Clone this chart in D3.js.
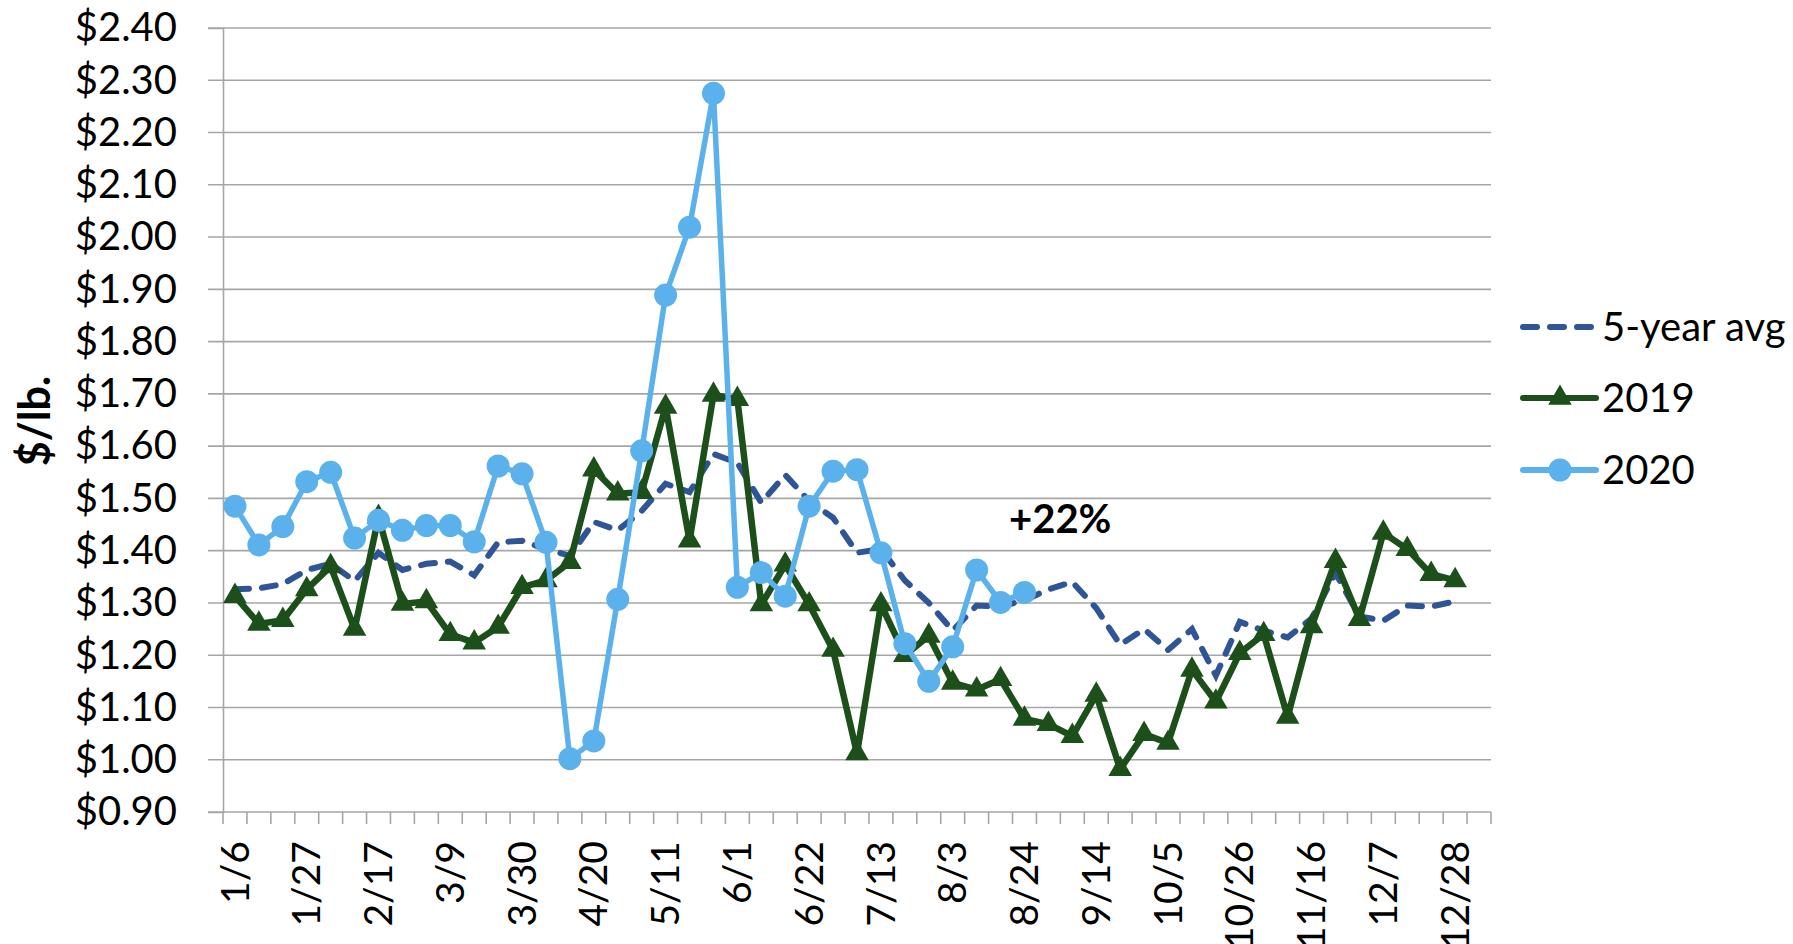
<!DOCTYPE html>
<html>
<head>
<meta charset="utf-8">
<script src="https://cdnjs.cloudflare.com/ajax/libs/d3/7.8.5/d3.min.js"></script>
<style>
  body { margin: 0; background: #fff; }
  svg { display: block; }
  .tick text, text { font-family: Lato, "Open Sans", sans-serif; fill: #000; }
</style>
</head>
<body>
<script>
// week labels (53rd category is empty in the original)
let weeks = ["1/6","1/13","1/20","1/27","2/3","2/10","2/17","2/24","3/2","3/9","3/16","3/23","3/30",
    "4/6","4/13","4/20","4/27","5/4","5/11","5/18","5/25","6/1","6/8","6/15","6/22","6/29",
    "7/6","7/13","7/20","7/27","8/3","8/10","8/17","8/24","8/31","9/7","9/14","9/21","9/28",
    "10/5","10/12","10/19","10/26","11/2","11/9","11/16","11/23","11/30","12/7","12/14","12/21","12/28"];

let avg5 = [1.326,1.328,1.336,1.363,1.375,1.342,1.396,1.363,1.375,1.379,1.353,1.416,1.419,
    1.403,1.39,1.455,1.439,1.476,1.528,1.512,1.585,1.568,1.492,1.545,1.495,1.463,
    1.396,1.403,1.343,1.30,1.247,1.295,1.293,1.305,1.326,1.340,1.29,1.22,1.25,
    1.21,1.25,1.161,1.264,1.247,1.234,1.27,1.357,1.274,1.266,1.295,1.293,1.303];

let y2019 = [1.313,1.26,1.267,1.326,1.37,1.25,1.464,1.298,1.303,1.24,1.224,1.254,1.33,
    1.343,1.378,1.555,1.509,1.512,1.675,1.419,1.698,1.69,1.297,1.373,1.297,1.21,
    1.012,1.297,1.20,1.237,1.147,1.134,1.154,1.078,1.068,1.045,1.124,0.982,1.049,
    1.032,1.172,1.111,1.204,1.24,1.082,1.255,1.38,1.269,1.434,1.403,1.355,1.343];

let y2020 = [1.485,1.411,1.446,1.532,1.55,1.424,1.458,1.439,1.448,1.448,1.417,1.562,1.547,
    1.416,1.002,1.036,1.307,1.591,1.889,2.019,2.275,1.330,1.358,1.313,1.485,1.552,
    1.555,1.396,1.222,1.150,1.216,1.363,1.301,1.320];

let yTicks = [0.9,1.0,1.1,1.2,1.3,1.4,1.5,1.6,1.7,1.8,1.9,2.0,2.1,2.2,2.3,2.4];

let seriesNames = ["5-year avg", "2019", "2020"];

// page and plot area
let W = 1793, H = 944;
let plot = {left: 223, right: 1491, top: 28, bottom: 812};

let svg = d3.select("body").append("svg")
    .attr("width", W)
    .attr("height", H);

// scales
let x = d3.scaleBand()
    .domain(d3.range(weeks.length + 1))
    .range([plot.left, plot.right]);
let y = d3.scaleLinear()
    .domain([0.9, 2.4])
    .range([plot.bottom, plot.top]);

function cx(i) { return x(i) + x.bandwidth() / 2; }

// gridlines
svg.append("g")
    .selectAll("line")
    .data(yTicks)
    .enter().append("line")
    .attr("x1", plot.left - 15)
    .attr("x2", plot.right)
    .attr("y1", function(d) { return y(d); })
    .attr("y2", function(d) { return y(d); })
    .attr("stroke", "#a6a6a6")
    .attr("stroke-width", 1.6);

// Y axis
let yAxis = svg.append("g")
    .attr("transform", "translate(" + plot.left + ",0)")
    .call(d3.axisLeft(y).tickValues(yTicks).tickSize(15).tickPadding(31).tickFormat(d3.format("$.2f")));
yAxis.select(".domain").attr("stroke", "#a6a6a6").attr("stroke-width", 1.6);
yAxis.selectAll(".tick line").remove();
yAxis.selectAll(".tick text").style("font-size", "40px");

// X axis: ticks between categories, labels every 3rd week
let xg = svg.append("g");
xg.selectAll("line")
    .data(d3.range(weeks.length + 2))
    .enter().append("line")
    .attr("x1", function(d) { return plot.left + d * x.step(); })
    .attr("x2", function(d) { return plot.left + d * x.step(); })
    .attr("y1", plot.bottom)
    .attr("y2", plot.bottom + 12)
    .attr("stroke", "#a6a6a6")
    .attr("stroke-width", 1.6);

xg.selectAll("text")
    .data(weeks.filter(function(d, i) { return i % 3 === 0; }))
    .enter().append("text")
    .attr("transform", function(d) {
        return "translate(" + cx(weeks.indexOf(d)) + "," + (plot.bottom + 29) + ") rotate(-90)";
    })
    .attr("text-anchor", "end")
    .attr("dy", "0.35em")
    .style("font-size", "39px")
    .text(function(d) { return d; });

// Y axis title
svg.append("text")
    .attr("transform", "translate(35,421) rotate(-90)")
    .attr("text-anchor", "middle")
    .attr("dy", "0.35em")
    .style("font-size", "43px")
    .style("font-weight", "bold")
    .text("$/lb.");

// lines
let line = d3.line()
    .defined(function(d) { return d != null; })
    .x(function(d, i) { return cx(i); })
    .y(function(d) { return y(d); });

let colors = {avg: "#2f5597", y19: "#1c4f1a", y20: "#5bb1eb"};

svg.append("path")
    .datum(avg5)
    .attr("d", line)
    .attr("fill", "none")
    .attr("stroke", colors.avg)
    .attr("stroke-width", 6)
    .attr("stroke-dasharray", "14,13")
    .attr("stroke-linecap", "round");

svg.append("path")
    .datum(y2019)
    .attr("d", line)
    .attr("fill", "none")
    .attr("stroke", colors.y19)
    .attr("stroke-width", 6.5)
    .attr("stroke-linejoin", "round");

svg.append("g")
    .selectAll("path")
    .data(y2019)
    .enter().append("path")
    .attr("d", d3.symbol().type(d3.symbolTriangle).size(240))
    .attr("transform", function(d, i) { return "translate(" + cx(i) + "," + y(d) + ")"; })
    .attr("fill", colors.y19);

svg.append("path")
    .datum(y2020)
    .attr("d", line)
    .attr("fill", "none")
    .attr("stroke", colors.y20)
    .attr("stroke-width", 5.5)
    .attr("stroke-linejoin", "round");

svg.append("g")
    .selectAll("circle")
    .data(y2020)
    .enter().append("circle")
    .attr("cx", function(d, i) { return cx(i); })
    .attr("cy", function(d) { return y(d); })
    .attr("r", 11.5)
    .attr("fill", colors.y20);

// annotation
svg.append("text")
    .attr("x", 1009)
    .attr("y", 533)
    .style("font-size", "40px")
    .style("font-weight", "bold")
    .text("+22%");

// legend
let legend = svg.append("g").attr("transform", "translate(1523,0)");
let legY = [327, 398, 470];
let legColors = [colors.avg, colors.y19, colors.y20];

legend.selectAll("line")
    .data(seriesNames)
    .enter().append("line")
    .attr("x1", 0)
    .attr("x2", 73)
    .attr("y1", function(d, i) { return legY[i]; })
    .attr("y2", function(d, i) { return legY[i]; })
    .attr("stroke", function(d, i) { return legColors[i]; })
    .attr("stroke-width", function(d, i) { return i === 0 ? 6 : 6; })
    .attr("stroke-linecap", "round")
    .attr("stroke-dasharray", function(d, i) { return i === 0 ? "14,13" : null; });

legend.append("path")
    .attr("d", d3.symbol().type(d3.symbolTriangle).size(240))
    .attr("transform", "translate(37," + legY[1] + ")")
    .attr("fill", colors.y19);

legend.append("circle")
    .attr("cx", 37)
    .attr("cy", legY[2])
    .attr("r", 11.5)
    .attr("fill", colors.y20);

legend.selectAll("text")
    .data(seriesNames)
    .enter().append("text")
    .attr("x", 79)
    .attr("y", function(d, i) { return legY[i]; })
    .attr("dy", "0.35em")
    .style("font-size", "40px")
    .text(function(d) { return d; });
</script>
</body>
</html>
